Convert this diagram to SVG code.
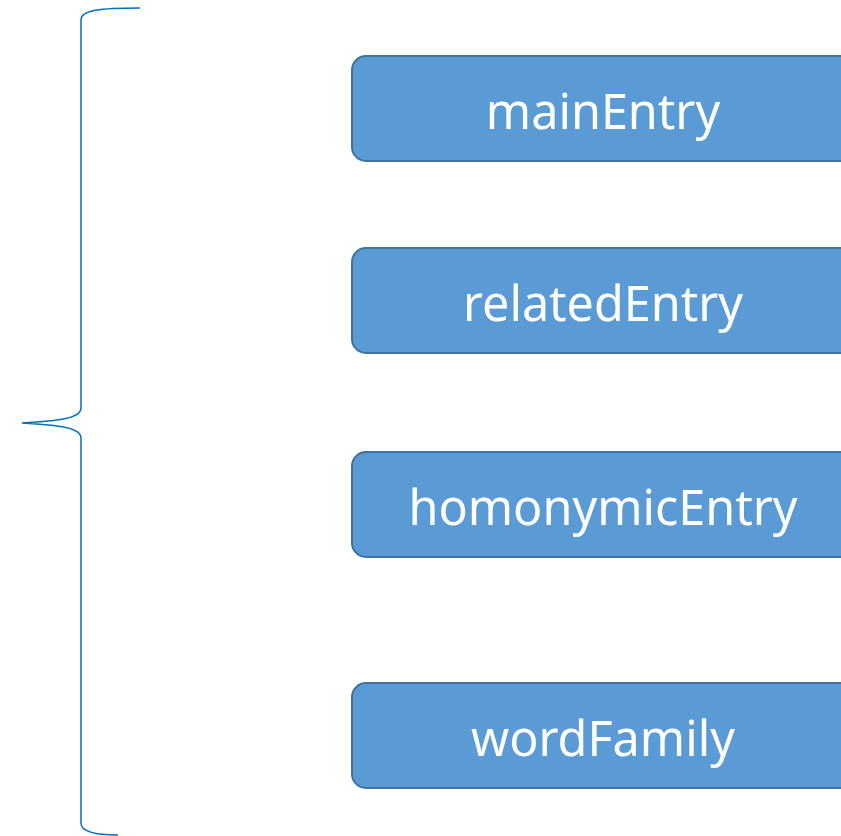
<svg xmlns="http://www.w3.org/2000/svg" width="841" height="836" viewBox="0 0 841 836">
<style>
.box{fill:#5B9BD5;stroke:#41719C;stroke-width:2}
.lbl{font-family:"Noto Sans","Liberation Sans",sans-serif;font-size:48.5px;fill:#FFFFFF;text-anchor:middle;dominant-baseline:central}
.brace{fill:none;stroke:#0070C0;stroke-width:1.5}
</style>
<g id="connectors">
<path class="brace" d="M140,8 C100,8 81,10 81,20 L81,408 C81,418 60,421 22,423 C60,425 81,428 81,438 L81,823 C81,833 100,835 118,835"/>
</g>
<g id="mainEntry"><rect class="box" x="352" y="56" width="510" height="105" rx="14"/><text class="lbl" x="603" y="110">mainEntry</text></g>
<g id="relatedEntry"><rect class="box" x="352" y="248" width="510" height="105" rx="14"/><text class="lbl" x="603" y="302">relatedEntry</text></g>
<g id="homonymicEntry"><rect class="box" x="352" y="452" width="510" height="105" rx="14"/><text class="lbl" x="603" y="506">homonymicEntry</text></g>
<g id="wordFamily"><rect class="box" x="352" y="683" width="510" height="105" rx="14"/><text class="lbl" x="603" y="737">wordFamily</text></g>
</svg>
